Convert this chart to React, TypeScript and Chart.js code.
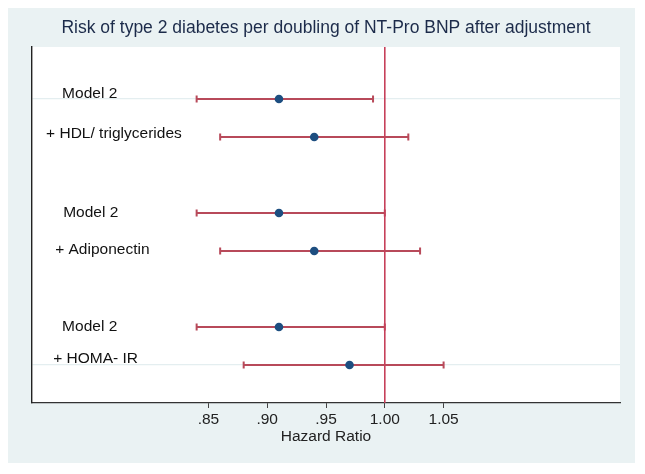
import React, { useEffect, useRef } from "react";
import { Chart, registerables } from "chart.js";

Chart.register(...registerables);

const titleText = "Risk of type 2 diabetes per doubling of NT-Pro BNP after adjustment";
const xAxisTitle = "Hazard Ratio";
const rowLabels = ["Model 2", "+ HDL/ triglycerides", "Model 2", "+ Adiponectin", "Model 2", "+ HOMA- IR"];
const rowPositions = [1, 2, 4, 5, 7, 8];
const hazardRatios = [0.91, 0.94, 0.91, 0.94, 0.91, 0.97];
const ciLower = [0.84, 0.86, 0.84, 0.86, 0.84, 0.88];
const ciUpper = [0.99, 1.02, 1.0, 1.03, 1.0, 1.05];
const labelX = [0.7256, 0.712, 0.7265, 0.7197, 0.7256, 0.718];
const labelY = [0.87, 1.91, 4.0, 4.96, 7.0, 7.84];
const xTickValues = [0.85, 0.9, 0.95, 1.0, 1.05];
const xTickLabels = [".85", ".90", ".95", "1.00", "1.05"];
const gridRows = [1, 8];
const referenceValue = 1.0;

const FONT = "'Liberation Sans', Arial, Helvetica, sans-serif";

const forestPlugin = {
  id: "forest",
  beforeDraw(chart: any) {
    const { ctx, chartArea: a, width, height } = chart;
    ctx.save();
    ctx.fillStyle = "#eaf2f3";
    ctx.fillRect(0, 0, width, height);
    ctx.fillStyle = "#ffffff";
    ctx.fillRect(a.left, a.top, a.right - a.left, a.bottom - a.top);
    ctx.fillStyle = "#1c2b4a";
    ctx.font = `17.5px ${FONT}`;
    ctx.textAlign = "center";
    ctx.textBaseline = "middle";
    ctx.fillText(titleText, (a.left + a.right) / 2, 20);
    ctx.restore();
  },
  beforeDatasetsDraw(chart: any) {
    const { ctx, chartArea: a } = chart;
    const xs = chart.scales.x;
    const ys = chart.scales.y;
    ctx.save();
    ctx.strokeStyle = "#b84a5a";
    ctx.lineWidth = 2;
    for (let i = 0; i < rowPositions.length; i++) {
      const y = ys.getPixelForValue(rowPositions[i]);
      const x0 = xs.getPixelForValue(ciLower[i]);
      const x1 = xs.getPixelForValue(ciUpper[i]);
      ctx.beginPath();
      ctx.moveTo(x0, y);
      ctx.lineTo(x1, y);
      ctx.moveTo(x0, y - 3.5);
      ctx.lineTo(x0, y + 3.5);
      ctx.moveTo(x1, y - 3.5);
      ctx.lineTo(x1, y + 3.5);
      ctx.stroke();
    }
    const rx = xs.getPixelForValue(referenceValue);
    ctx.strokeStyle = "#c6405a";
    ctx.lineWidth = 1.6;
    ctx.beginPath();
    ctx.moveTo(rx, a.top);
    ctx.lineTo(rx, a.bottom);
    ctx.stroke();

    ctx.fillStyle = "#111111";
    ctx.font = `15.5px ${FONT}`;
    ctx.textAlign = "left";
    ctx.textBaseline = "middle";
    for (let i = 0; i < rowLabels.length; i++) {
      ctx.fillText(rowLabels[i], xs.getPixelForValue(labelX[i]), ys.getPixelForValue(labelY[i]));
    }
    ctx.restore();
  },
};

export default function App() {
  const ref = useRef<HTMLCanvasElement | null>(null);
  useEffect(() => {
    if (!ref.current) return;
    const chart = new Chart(ref.current, {
      type: "scatter",
      data: {
        datasets: [
          {
            data: rowPositions.map((p, i) => ({ x: hazardRatios[i], y: p })),
            pointRadius: 4.3,
            pointHoverRadius: 4.3,
            backgroundColor: "#1d4e80",
            borderWidth: 0,
          },
        ],
      },
      options: {
        animation: false,
        responsive: true,
        maintainAspectRatio: false,
        layout: { padding: { left: 24, right: 15, top: 39, bottom: 0 } },
        plugins: { legend: { display: false }, tooltip: { enabled: false }, title: { display: false } },
        scales: {
          x: {
            type: "linear",
            min: 0.7,
            max: 1.2,
            afterBuildTicks: (s: any) => {
              s.ticks = xTickValues.map((v) => ({ value: v }));
            },
            afterFit: (s: any) => {
              s.height = 60;
            },
            ticks: {
              autoSkip: false,
              maxRotation: 0,
              padding: 2,
              color: "#222222",
              font: { family: FONT, size: 15.5 },
              callback: (_v: any, i: number) => xTickLabels[i],
            },
            grid: { drawOnChartArea: false, tickLength: 5, color: "#444444", lineWidth: 1 },
            border: { display: true, color: "#333333", width: 1.2 },
            title: {
              display: true,
              text: xAxisTitle,
              color: "#222222",
              font: { family: FONT, size: 15.5 },
              padding: { top: 0, bottom: 17 },
            },
          },
          y: {
            type: "linear",
            reverse: true,
            min: -0.37,
            max: 9,
            afterBuildTicks: (s: any) => {
              s.ticks = gridRows.map((v) => ({ value: v }));
            },
            ticks: { display: false },
            grid: { drawTicks: false, color: "#e4eef0", lineWidth: 1.2 },
            border: { display: true, color: "#222222", width: 1.4 },
          },
        },
      },
      plugins: [forestPlugin],
    });
    return () => chart.destroy();
  }, []);
  return (
    <div style={{ width: 627, height: 455, position: "relative" }}>
      <canvas ref={ref} />
    </div>
  );
}
